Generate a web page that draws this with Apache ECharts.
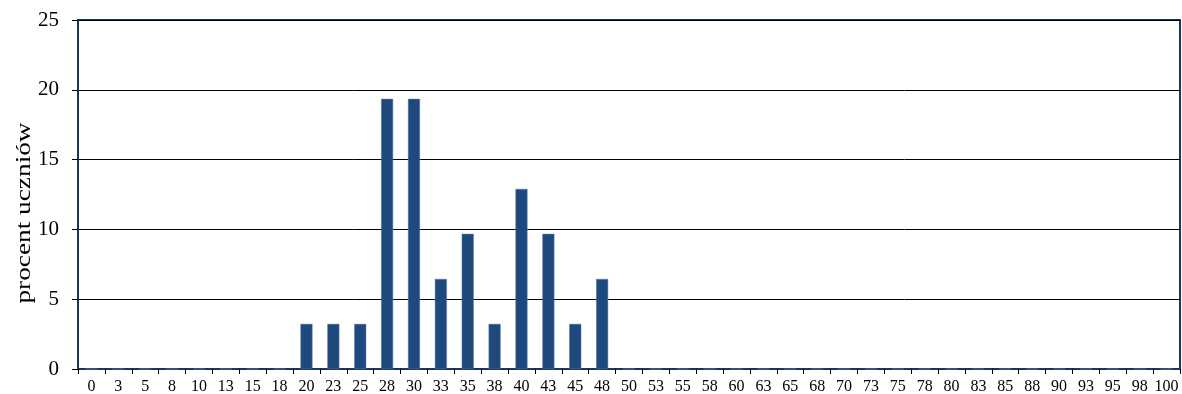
<!DOCTYPE html>
<html>
<head>
<meta charset="utf-8">
<script src="https://cdn.jsdelivr.net/npm/echarts@6/dist/echarts.min.js"></script>
<style>html,body{margin:0;padding:0;background:#fff}#c{width:1182px;height:394px}</style>
</head>
<body>
<div id="c"></div>
<script>
const categories = ['0','3','5','8','10','13','15','18','20','23','25','28','30','33','35','38','40','43','45','48','50','53','55','58','60','63','65','68','70','73','75','78','80','83','85','88','90','93','95','98','100'];
const values = [0,0,0,0,0,0,0,0,3.23,3.23,3.23,19.35,19.35,6.45,9.68,3.23,12.9,9.68,3.23,6.45,0,0,0,0,0,0,0,0,0,0,0,0,0,0,0,0,0,0,0,0,0];
const yTitle = 'procent uczniów';

const chart = echarts.init(document.getElementById('c'), null, {renderer: 'canvas'});
const font = '"Liberation Serif", "Times New Roman", serif';
chart.setOption({
  animation: false,
  grid: {left: 78, right: 2, top: 20, bottom: 25, show: true, borderColor: '#17375E', borderWidth: 2, backgroundColor: 'transparent', containLabel: false, outerBoundsMode: 'none'},
  graphic: [{
    type: 'text',
    x: 24, y: 213,
    rotation: Math.PI / 2,
    scaleX: 1.3,
    style: {text: yTitle, font: '21px ' + font, fill: '#000', align: 'center', verticalAlign: 'middle'}
  }],
  xAxis: {
    type: 'category',
    data: categories,
    boundaryGap: true,
    axisLine: {show: true, lineStyle: {color: '#17375E', width: 2}},
    axisTick: {show: true, length: 5, lineStyle: {color: '#000', width: 1}},
    axisLabel: {interval: 0, fontFamily: font, fontSize: 16, color: '#000', margin: 10}
  },
  yAxis: {
    type: 'value',
    min: 0, max: 25, interval: 5,
    axisLine: {show: true, lineStyle: {color: '#17375E', width: 2}},
    axisTick: {show: true, length: 6, lineStyle: {color: '#000', width: 1}},
    axisLabel: {fontFamily: font, fontSize: 21, color: '#000', margin: 19},
    splitLine: {show: true, lineStyle: {color: '#000', width: 1}}
  },
  series: [{
    type: 'bar',
    data: values,
    barWidth: 12,
    itemStyle: {color: '#1F497D', borderColor: '#5a7aa6', borderWidth: 0.5}
  }]
});
</script>
</body>
</html>
